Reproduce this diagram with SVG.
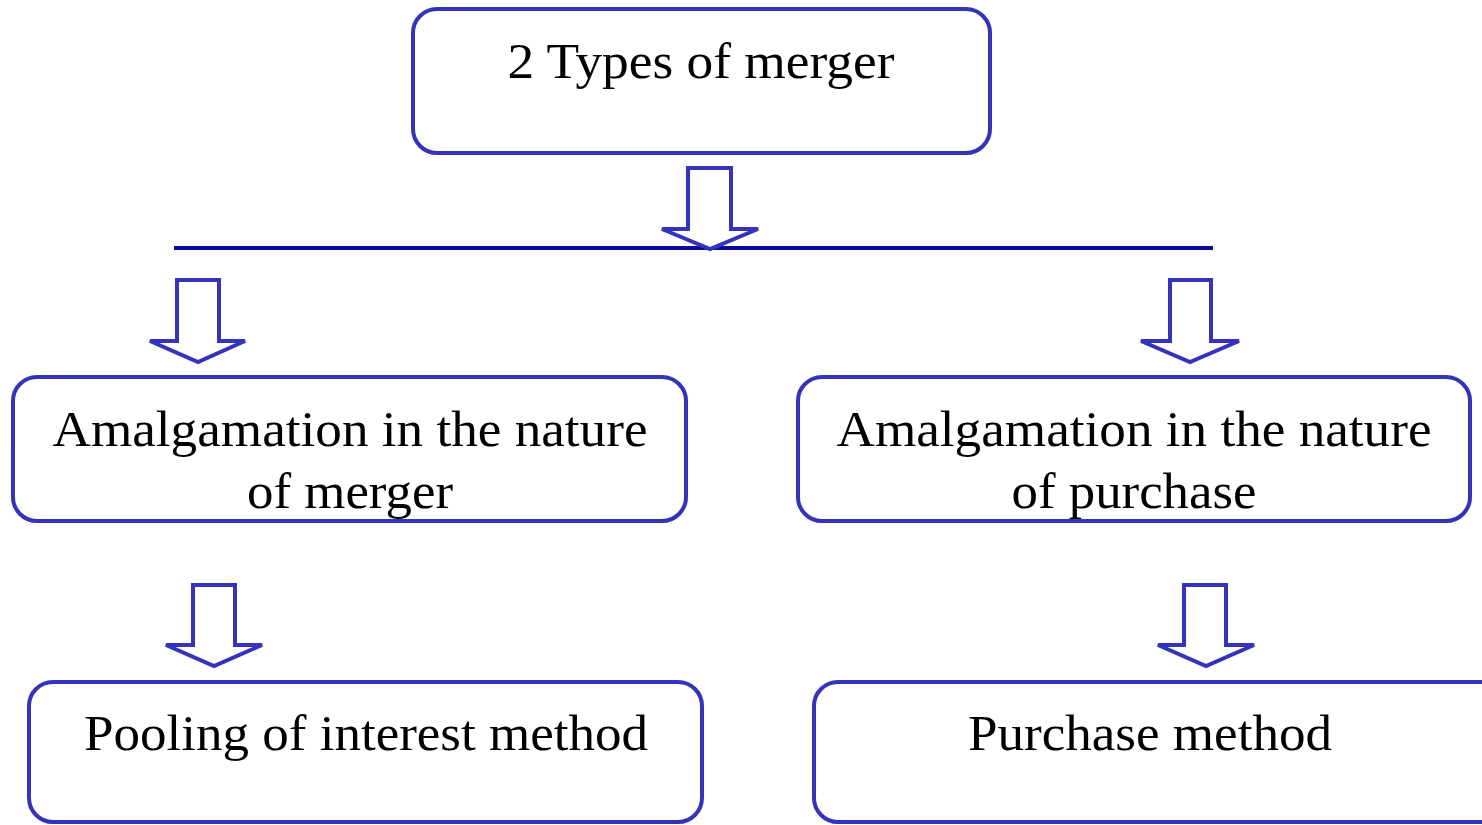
<svg xmlns="http://www.w3.org/2000/svg" width="1482" height="825" viewBox="0 0 1482 825">
<style>
.box{fill:#fff;stroke:#3333bb;stroke-width:4}
.arr{fill:#fff;stroke:#3333bb;stroke-width:4;stroke-linejoin:miter}
.t{font-family:"Liberation Serif","Times New Roman",serif;font-size:50px;fill:#000;text-anchor:middle}
</style>
<rect width="1482" height="825" fill="#fff"/>
<g id="connectors">
<line x1="174" y1="248" x2="1213" y2="248" stroke="#0a0a9a" stroke-width="4"/>
<path class="arr" d="M688,168 H731 V229 H758 L710,249 L662,229 H688 Z"/>
<path class="arr" d="M177,280 H219 V341 H245 L198,362 L150,341 H177 Z"/>
<path class="arr" d="M1170,280 H1211 V341 H1239 L1190,362 L1141,341 H1170 Z"/>
<path class="arr" d="M193,585 H235 V645 H262 L214,666 L166,645 H193 Z"/>
<path class="arr" d="M1184,585 H1226 V645 H1254 L1206,666 L1158,645 H1184 Z"/>
</g>
<g id="top">
<rect class="box" x="413" y="9" width="577" height="144" rx="24"/>
<text class="t" x="701" y="78" textLength="387" lengthAdjust="spacingAndGlyphs">2 Types of merger</text>
</g>
<g id="left1">
<rect class="box" x="13" y="377" width="673" height="144" rx="24"/>
<text class="t" x="350" y="446" textLength="595" lengthAdjust="spacingAndGlyphs">Amalgamation in the nature</text>
<text class="t" x="350" y="508" textLength="206" lengthAdjust="spacingAndGlyphs">of merger</text>
</g>
<g id="right1">
<rect class="box" x="798" y="377" width="672" height="144" rx="24"/>
<text class="t" x="1134" y="446" textLength="595" lengthAdjust="spacingAndGlyphs">Amalgamation in the nature</text>
<text class="t" x="1134" y="508" textLength="245" lengthAdjust="spacingAndGlyphs">of purchase</text>
</g>
<g id="left2">
<rect class="box" x="29" y="682" width="673" height="140" rx="24"/>
<text class="t" x="366" y="750" textLength="564" lengthAdjust="spacingAndGlyphs">Pooling of interest method</text>
</g>
<g id="right2">
<rect class="box" x="814" y="682" width="690" height="140" rx="24"/>
<text class="t" x="1150" y="750" textLength="364" lengthAdjust="spacingAndGlyphs">Purchase method</text>
</g>
</svg>
